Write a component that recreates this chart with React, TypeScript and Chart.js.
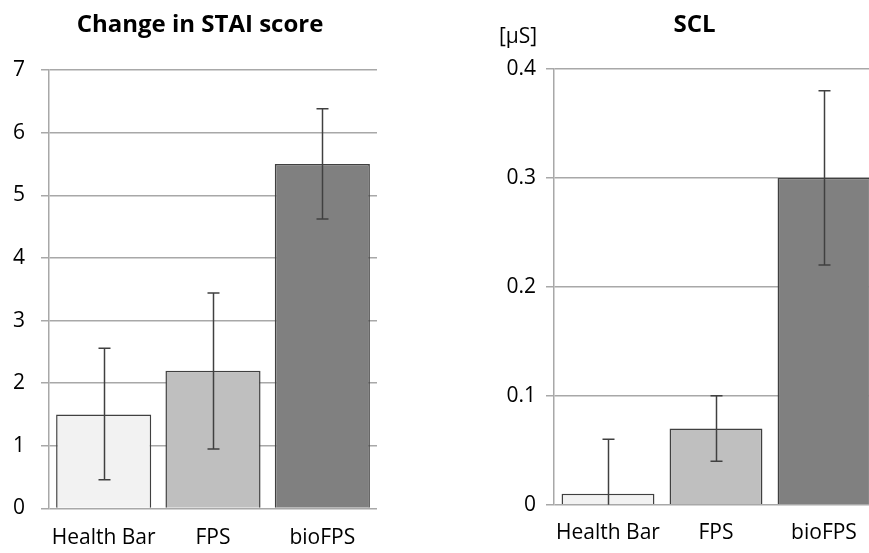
import React, { useEffect, useRef } from "react";
import { Chart, registerables } from "chart.js";

Chart.register(...registerables);

const categories = ["Health Bar", "FPS", "bioFPS"];
const staiMeans = [1.5, 2.2, 5.5];
const staiLow = [0.46, 0.95, 4.62];
const staiHigh = [2.56, 3.44, 6.38];
const sclMeans = [0.01, 0.07, 0.3];
const sclLow = [-0.04, 0.04, 0.22];
const sclHigh = [0.06, 0.1, 0.38];
const staiTicks = [0, 1, 2, 3, 4, 5, 6, 7];
const sclTicks = [0, 0.1, 0.2, 0.3, 0.4];
const barColors = ["#f2f2f2", "#bfbfbf", "#808080"];

const FONT = "'Open Sans', 'DejaVu Sans', sans-serif";

const errorBarPlugin = {
  id: "errorBars",
  afterDatasetsDraw(chart: any, _args: any, opts: any) {
    const { ctx, chartArea } = chart;
    const meta = chart.getDatasetMeta(0);
    const y = chart.scales.y;
    ctx.save();
    ctx.beginPath();
    ctx.rect(chartArea.left, chartArea.top - 2, chartArea.right - chartArea.left, chartArea.bottom - chartArea.top + 2);
    ctx.clip();
    ctx.strokeStyle = "#404040";
    ctx.lineWidth = 1.5;
    meta.data.forEach((bar: any, i: number) => {
      const x = Math.round(bar.x) + 0.5;
      const yl = y.getPixelForValue(opts.low[i]);
      const yh = y.getPixelForValue(opts.high[i]);
      ctx.beginPath();
      ctx.moveTo(x, yl);
      ctx.lineTo(x, yh);
      ctx.moveTo(x - 6, yl);
      ctx.lineTo(x + 6, yl);
      ctx.moveTo(x - 6, yh);
      ctx.lineTo(x + 6, yh);
      ctx.stroke();
    });
    ctx.restore();
  },
};

const textPlugin = {
  id: "texts",
  afterDraw(chart: any, _args: any, opts: any) {
    const { ctx } = chart;
    ctx.save();
    ctx.fillStyle = "#000";
    ctx.textAlign = "center";
    ctx.textBaseline = "alphabetic";
    (opts.items || []).forEach((it: any) => {
      ctx.font = it.font;
      ctx.fillText(it.text, it.x, it.y);
    });
    ctx.restore();
  },
};

function makeConfig(p: {
  means: number[];
  low: number[];
  high: number[];
  ticks: number[];
  max: number;
  yWidth: number;
  xHeight: number;
  top: number;
  right: number;
  tickPad: number;
  labelPad: number;
  barPct: number;
  texts: any[];
}): any {
  return {
    type: "bar",
    data: {
      labels: categories,
      datasets: [
        {
          data: p.means,
          backgroundColor: barColors,
          borderColor: "#404040",
          borderWidth: 1.5,
          barPercentage: p.barPct,
          categoryPercentage: 1,
        },
      ],
    },
    options: {
      responsive: false,
      animation: false,
      devicePixelRatio: 1,
      layout: { padding: { top: p.top, right: p.right, left: 0, bottom: 0 } },
      plugins: {
        legend: { display: false },
        tooltip: { enabled: false },
        title: { display: false },
        errorBars: { low: p.low, high: p.high },
        texts: { items: p.texts },
      },
      scales: {
        x: {
          grid: { display: false, drawTicks: false },
          border: { display: false },
          ticks: {
            font: { family: FONT, size: 21 },
            color: "#000",
            padding: p.labelPad,
            maxRotation: 0,
            minRotation: 0,
            autoSkip: false,
          },
          afterFit(s: any) {
            s.height = p.xHeight;
            s.paddingLeft = 0;
            s.paddingRight = 0;
          },
        },
        y: {
          min: 0,
          max: p.max,
          grid: { color: "#a8a8a8", lineWidth: 1.5, tickLength: 8 },
          border: { display: true, color: "#a8a8a8", width: 1.5 },
          ticks: { font: { family: FONT, size: 21 }, color: "#000", padding: p.tickPad },
          afterBuildTicks(s: any) {
            s.ticks = p.ticks.map((v) => ({ value: v }));
          },
          afterFit(s: any) {
            s.width = p.yWidth;
            s.paddingTop = 0;
            s.paddingBottom = 0;
          },
        },
      },
    },
    plugins: [errorBarPlugin, textPlugin],
  };
}

export default function App() {
  const leftRef = useRef<HTMLCanvasElement>(null);
  const rightRef = useRef<HTMLCanvasElement>(null);

  useEffect(() => {
    const left = new Chart(
      leftRef.current!,
      makeConfig({
        means: staiMeans,
        low: staiLow,
        high: staiHigh,
        ticks: staiTicks,
        max: 7,
        yWidth: 49,
        xHeight: 44.5,
        top: 70,
        right: 63,
        tickPad: 16,
        labelPad: 17,
        barPct: 0.87,
        texts: [{ text: "Change in STAI score", x: 200, y: 32, font: `bold 24px ${FONT}` }],
      })
    );
    const right = new Chart(
      rightRef.current!,
      makeConfig({
        means: sclMeans,
        low: sclLow,
        high: sclHigh,
        ticks: sclTicks,
        max: 0.4,
        yWidth: 114,
        xHeight: 48.3,
        top: 69,
        right: 12,
        tickPad: 10,
        labelPad: 16,
        barPct: 0.86,
        texts: [
          { text: "SCL", x: 254.5, y: 32, font: `bold 24px ${FONT}` },
          { text: "[\u00b5S]", x: 78, y: 43, font: `21px ${FONT}` },
        ],
      })
    );
    return () => {
      left.destroy();
      right.destroy();
    };
  }, []);

  return (
    <div
      style={{
        position: "fixed",
        left: 0,
        top: 0,
        width: 869,
        height: 553,
        overflow: "hidden",
        background: "#fff",
      }}
    >
      <canvas ref={leftRef} width={440} height={553} style={{ position: "absolute", left: 0, top: 0 }} />
      <canvas ref={rightRef} width={450} height={553} style={{ position: "absolute", left: 440, top: 0 }} />
    </div>
  );
}
